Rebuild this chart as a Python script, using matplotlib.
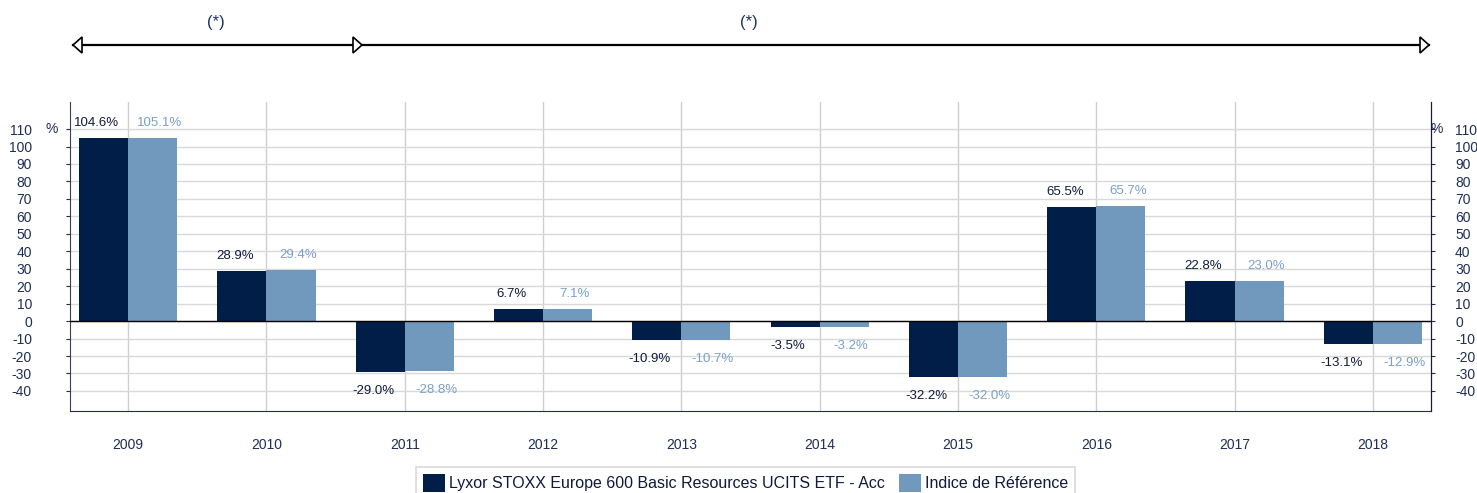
import matplotlib
matplotlib.use("Agg")
import matplotlib.pyplot as plt
from matplotlib.patches import Polygon
from matplotlib.lines import Line2D
import numpy as np

plt.rcParams['font.family'] = ['Liberation Sans', 'DejaVu Sans']

years = ["2009", "2010", "2011", "2012", "2013", "2014", "2015", "2016", "2017", "2018"]
fund = [104.6, 28.9, -29.0, 6.7, -10.9, -3.5, -32.2, 65.5, 22.8, -13.1]
index = [105.1, 29.4, -28.8, 7.1, -10.7, -3.2, -32.0, 65.7, 23.0, -12.9]
fund_name = "Lyxor STOXX Europe 600 Basic Resources UCITS ETF - Acc"
index_name = "Indice de Référence"
yticks = list(range(-40, 111, 10))

DARK = "#001e48"
LIGHT = "#7099bd"
DARK_TXT = "#0d1b3a"
LIGHT_TXT = "#7b9fc6"
TICK_TXT = "#1f2e55"

W, H = 1477, 493
PT = 72 / 100  # points per pixel
fig = plt.figure(figsize=(W / 100, H / 100), dpi=100)
ax = fig.add_axes([70 / W, 1 - 411 / H, (1431 - 70) / W, (411 - 102) / H])

x = np.arange(len(years))
bw = 0.355
b1 = ax.bar(x - bw / 2, fund, bw, color=DARK, label=fund_name, zorder=3)
b2 = ax.bar(x + bw / 2, index, bw, color=LIGHT, label=index_name, zorder=3)

ax.set_xlim(-0.42, len(years) - 1 + 0.42)
ax.set_ylim(-51.5, 125.5)
ax.set_yticks(yticks)
ax.set_yticklabels([str(t) for t in yticks])
ax.set_xticks(x)
ax.set_xticklabels(years)

ax.grid(axis='y', color='#d9d9d9', lw=1, zorder=0)
ax.grid(axis='x', color='#cfcfcf', lw=1, zorder=0)
ax.axhline(0, color='black', lw=1, zorder=4)

ax.spines['top'].set_visible(False)
ax.spines['left'].set_color('#3a3f4f')
ax.spines['right'].set_color('#1a1a2a')
ax.spines['bottom'].set_color(TICK_TXT)
ax.tick_params(axis='x', length=0, pad=27 * PT, labelsize=10, labelcolor=TICK_TXT)
ax.tick_params(axis='y', direction='out', length=4 * PT, color=TICK_TXT, pad=34 * PT,
               labelsize=10, labelcolor=TICK_TXT)

ax2 = ax.twinx()
ax2.set_ylim(ax.get_ylim())
ax2.set_yticks(yticks)
ax2.set_yticklabels([str(t) for t in yticks])
ax2.tick_params(axis='y', direction='out', length=4 * PT, color=TICK_TXT, pad=20 * PT,
                labelsize=10, labelcolor=TICK_TXT)
for s in ['top', 'left', 'bottom']:
    ax2.spines[s].set_visible(False)
ax2.spines['right'].set_color('#1a1a2a')

ax.annotate('%', xy=(0, 110), xycoords=('axes fraction', 'data'), xytext=(-18, 0),
            textcoords='offset pixels', ha='center', va='center', fontsize=10, color=TICK_TXT)
ax.annotate('%', xy=(1, 110), xycoords=('axes fraction', 'data'), xytext=(6, 0),
            textcoords='offset pixels', ha='center', va='center', fontsize=10, color=TICK_TXT)

for bars, vals, col, dx in [(b1, fund, DARK_TXT, -7), (b2, index, LIGHT_TXT, 7)]:
    for rect, v in zip(bars, vals):
        cx = rect.get_x() + rect.get_width() / 2
        dy = 15 if v >= 0 else -19
        ax.annotate(f"{v:.1f}%", xy=(cx, v), xytext=(dx, dy), textcoords='offset pixels',
                    ha='center', va='center', fontsize=9.5, color=col, zorder=5)

# top period arrows
yline = 1 - 45 / H
fig.add_artist(Line2D([73 / W, 1429 / W], [yline, yline], color='black', lw=1.6,
                      transform=fig.transFigure))

def tri(xtip, direction):
    hl, hw = 9, 8
    pts = [(xtip, 45), (xtip - direction * hl, 45 - hw), (xtip - direction * hl, 45 + hw)]
    pts = [(px / W, 1 - py / H) for px, py in pts]
    fig.add_artist(Polygon(pts, closed=True, facecolor='white', edgecolor='black', lw=1.2,
                           transform=fig.transFigure, zorder=5))

tri(73, -1)
tri(362, 1)
tri(1429, 1)
fig.text(216 / W, 1 - 22 / H, "(*)", ha='center', va='center', fontsize=12, color='#1f3560')
fig.text(749 / W, 1 - 22 / H, "(*)", ha='center', va='center', fontsize=12, color='#1f3560')

leg = fig.legend(handles=[b1, b2], loc='upper left', bbox_to_anchor=(416 / W, 1 - 467 / H),
                 ncol=2, frameon=True, fancybox=False, edgecolor='#d0d0d0', fontsize=11.5,
                 handlelength=1.35, handleheight=1.35, handletextpad=0.25, columnspacing=0.9,
                 borderpad=0.45, borderaxespad=0)
leg.get_frame().set_linewidth(1.2)
for t in leg.get_texts():
    t.set_color('#0d1b3a')

fig.savefig("out.png", dpi=100)
